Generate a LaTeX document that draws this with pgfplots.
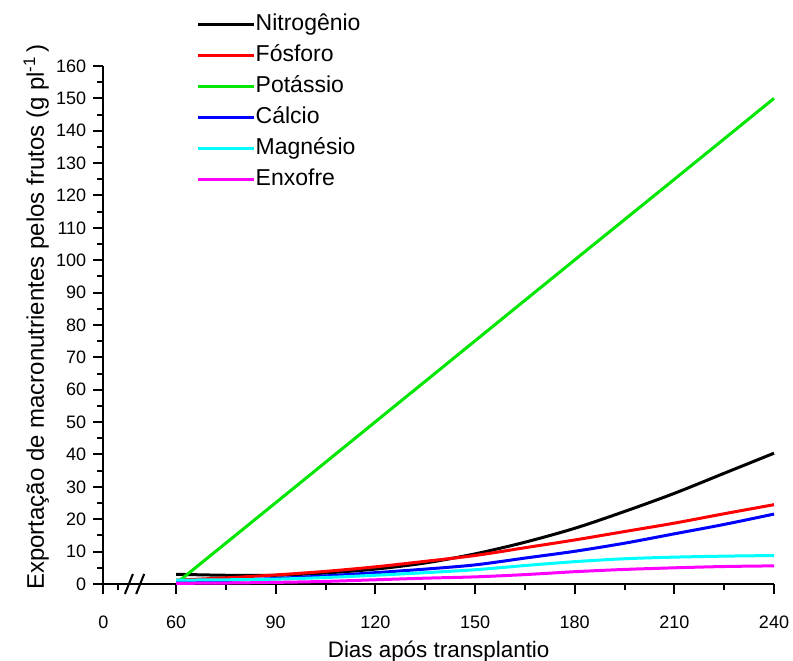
\documentclass[border=0pt]{standalone}
\usepackage{fontspec}
\setmainfont{Liberation Sans}
\usepackage{pgfplots}
\usepackage{pgfplotstable}
\pgfplotsset{compat=1.18}

% Exportacao de macronutrientes pelos frutos (g por planta)
\pgfplotstableread{
dia  N     P     Ca    Mg    S
60   3.0   1.2   0.8   1.2   0.2
75   2.7   1.9   1.1   1.3   0.3
90   2.7   2.8   1.7   1.5   0.5
105  3.4   3.9   2.5   2.0   0.8
120  4.6   5.3   3.5   2.7   1.3
135  6.5   7.0   4.6   3.5   1.8
150  9.3   8.8   5.9   4.4   2.2
165  12.9  11.2  8.0   5.7   2.9
180  17.2  13.6  10.1  6.9   3.8
195  22.4  16.2  12.6  7.8   4.5
210  28.0  18.8  15.5  8.3   5.0
225  34.2  21.7  18.4  8.6   5.4
240  40.4  24.5  21.6  8.8   5.6
}\exportacao

\pgfplotstableread{
dia  K
61   1.0
90   25.1
120  50.1
150  75.1
180  100.1
210  125.0
240  150.0
}\potassio

\definecolor{cN}{RGB}{0,0,0}
\definecolor{cP}{RGB}{255,0,0}
\definecolor{cK}{RGB}{0,230,0}
\definecolor{cCa}{RGB}{0,0,255}
\definecolor{cMg}{RGB}{0,255,255}
\definecolor{cS}{RGB}{255,0,255}

\newcommand{\xlabelfont}{\fontsize{11.2bp}{13bp}\selectfont}
\newcommand{\ylabelfont}{\fontsize{12bp}{14bp}\selectfont}

\begin{document}
\begin{tikzpicture}
\begin{axis}[
  name=ax,
  at={(0,0)}, anchor=south west,
  scale only axis,
  width=335.35bp, height=259bp,
  xmin=38.1, xmax=240,
  ymin=0, ymax=160,
  axis lines*=left,
  axis line style={line width=1bp},
  every tick/.style={line width=1bp, black},
  tick align=outside,
  major tick length=5bp,
  minor tick length=3bp,
  xtick={38.1,60,90,120,150,180,210,240},
  xticklabels={0,60,90,120,150,180,210,240},
  minor xtick={42.6,75,105,135,165,195,225},
  ytick={0,10,...,160},
  minor ytick={5,15,...,155},
  tick label style={font=\fontsize{9bp}{10bp}\selectfont},
  xticklabel style={anchor=base, yshift=-17bp},
  /pgf/number format/assume math mode=true,
  xlabel={\xlabelfont Dias após transplantio},
  ylabel={\ylabelfont Exportação de macronutrientes pelos frutos (g pl\textsuperscript{-1}\,)},
  every axis x label/.style={at={(axis description cs:0.5,0)}, anchor=base, yshift=-36.5bp},
  every axis y label/.style={at={(axis description cs:0,0.5)}, xshift=-33.5bp, yshift=4bp, rotate=90, anchor=center},
  legend style={
    at={(rel axis cs:0,1)}, anchor=north west,
    xshift=46.5bp, yshift=26.5bp,
    draw=none, fill=none, inner sep=0pt,
    font=\fontsize{11.5bp}{13bp}\selectfont,
    row sep=4.5bp,
    nodes={inner sep=0pt, text height=8.5bp, text depth=2.5bp},
  },
  legend cell align=left,
  legend image code/.code={\draw[#1] (0bp,0bp) -- (28bp,0bp);},
  /tikz/every even column/.append style={column sep=2bp},
  clip=false,
]
\addplot[cN, line width=1.5bp, smooth] table[x=dia, y=N] {\exportacao};
\addlegendentry{Nitrogênio}
\addplot[cP, line width=1.5bp, smooth] table[x=dia, y=P] {\exportacao};
\addlegendentry{Fósforo}
\addplot[cK, line width=1.5bp] table[x=dia, y=K] {\potassio};
\addlegendentry{Potássio}
\addplot[cCa, line width=1.5bp, smooth] table[x=dia, y=Ca] {\exportacao};
\addlegendentry{Cálcio}
\addplot[cMg, line width=1.5bp, smooth] table[x=dia, y=Mg] {\exportacao};
\addlegendentry{Magnésio}
\addplot[cS, line width=1.5bp, smooth] table[x=dia, y=S] {\exportacao};
\addlegendentry{Enxofre}

% axis break marks
\draw[line width=1bp] ([xshift=-2bp,yshift=-5bp]axis cs:45.8,0) -- ([xshift=2bp,yshift=5bp]axis cs:45.8,0);
\draw[line width=1bp] ([xshift=-2bp,yshift=-5bp]axis cs:49.2,0) -- ([xshift=2bp,yshift=5bp]axis cs:49.2,0);
\end{axis}
\pgfresetboundingbox
\path[use as bounding box] (-51.65bp,-38.5bp) rectangle (344.85bp,292bp);
\end{tikzpicture}
\end{document}
